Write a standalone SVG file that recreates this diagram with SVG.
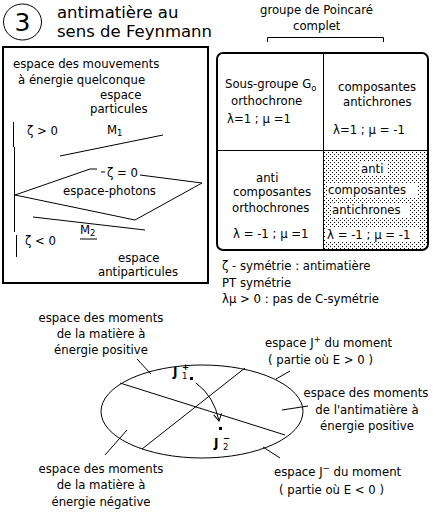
<svg xmlns="http://www.w3.org/2000/svg" width="433" height="513" viewBox="0 0 433 513">
<style>
text{font-family:"DejaVu Sans","Liberation Sans",sans-serif;font-size:11.7px;fill:#000}
.t{font-size:16.5px}
.ln{stroke:#000;stroke-width:1;fill:none}
.bx{stroke:#000;stroke-width:2;fill:none}
.sub{font-size:8.5px}
.b{font-weight:bold;font-size:12px}
</style>
<defs>
<pattern id="dots" width="4" height="4" patternUnits="userSpaceOnUse">
<rect x="0" y="0" width="1" height="1" fill="#000"/>
<rect x="2" y="2" width="1" height="1" fill="#000"/>
</pattern>
<marker id="arr" markerWidth="10" markerHeight="10" refX="8" refY="5" orient="auto" markerUnits="userSpaceOnUse">
<path d="M1,1 L8,5 L1,9" fill="none" stroke="#000" stroke-width="1"/>
</marker>
</defs>
<rect width="433" height="513" fill="#fff"/>

<g id="title">
<ellipse cx="22.5" cy="22" rx="19" ry="18" class="ln"/>
<text x="22.5" y="31" text-anchor="middle" style="font-size:25px">3</text>
<text class="t" x="57" y="18">antimatière au</text>
<text class="t" x="57" y="37">sens de Feynmann</text>
</g>

<g id="poincare-label">
<text x="260" y="14">groupe de Poincaré</text>
<text x="293" y="30">complet</text>
<path class="ln" d="M267.5,42 V37.5 H383.5 V42"/>
</g>

<g id="left-box">
<rect class="bx" x="3" y="47" width="205" height="236"/>
<text x="13" y="68">espace des mouvements</text>
<text x="18" y="84">à énergie quelconque</text>
<text x="100" y="99">espace</text>
<text x="90" y="113">particules</text>
<text x="27" y="135">ζ &gt; 0</text>
<text x="107" y="134">M<tspan class="sub" dy="2">1</tspan></text>
<text x="107" y="177">ζ = 0</text>
<text x="63" y="195">espace-photons</text>
<text x="80" y="234">M<tspan class="sub" dy="2">2</tspan></text>
<text x="25" y="245">ζ &lt; 0</text>
<text x="118" y="262">espace</text>
<text x="98" y="276">antiparticules</text>
</g>

<g id="left-lines">
<path class="ln" d="M60,156 L163,135"/>
<path class="ln" d="M13.5,122 V147 M14.5,147 V232 M16.5,235 V257"/>
<path class="ln" d="M15,195 L90,169 L97,169 M101,172 L105,172 M140,175 L202,183 L135,220 L15,195"/>
<path class="ln" d="M33,217 L145,230"/>
<path class="ln" d="M80,239 H97"/>
</g>

<g id="table">
<rect x="323" y="150" width="105" height="100" fill="url(#dots)"/>
<rect class="bx" x="217" y="53" width="211" height="197" rx="6"/>
<path class="ln" d="M323.5,53 V250 M217,150.5 H428"/>
</g>

<g id="cell-G0">
<text x="225" y="88">Sous-groupe G<tspan class="sub" dy="3">o</tspan></text>
<text x="231" y="105">orthochrone</text>
<text x="227" y="123">λ=1 ;  μ =1</text>
</g>
<g id="cell-antichrones">
<text x="338" y="91">composantes</text>
<text x="343" y="106">antichrones</text>
<text x="333" y="134">λ=1 ; μ = -1</text>
</g>
<g id="cell-anti-ortho">
<text x="256" y="182">anti</text>
<text x="233" y="196">composantes</text>
<text x="232" y="212">orthochrones</text>
<text x="233" y="238">λ = -1 ; μ =1</text>
</g>
<g id="cell-anti-antichrones">
<rect x="360" y="162" width="28" height="14" fill="#fff"/>
<rect x="327" y="183" width="91" height="15" fill="#fff"/>
<rect x="331" y="203" width="78" height="14" fill="#fff"/>
<rect x="326" y="228" width="93" height="14" fill="#fff"/>
<text x="361" y="173">anti</text>
<text x="328" y="194">composantes</text>
<text x="332" y="214">antichrones</text>
<text x="327" y="239">λ = -1 ; μ = -1</text>
</g>

<g id="notes">
<text x="222" y="270">ζ - symétrie : antimatière</text>
<text x="222" y="287">PT symétrie</text>
<text x="222" y="303">λμ  &gt; 0 : pas de C-symétrie</text>
</g>

<g id="ellipse">
<ellipse cx="202" cy="411.5" rx="101" ry="46.5" class="ln"/>
<path class="ln" d="M120,383 L285,435"/>
<path class="ln" d="M142,449 L245,368"/>
<rect x="190" y="377" width="3" height="3" fill="#000"/>
<rect x="219" y="427" width="3" height="3" fill="#000"/>
<text class="b" x="173" y="376">J</text>
<text class="sub" x="182" y="370" style="font-weight:bold">+</text>
<text class="sub" x="182" y="379">1</text>
<text class="b" x="214" y="447">J</text>
<text class="sub" x="223" y="441" style="font-weight:bold">−</text>
<text class="sub" x="223" y="450">2</text>
</g>

<g id="connectors">
<path class="ln" d="M196,383 Q214,396 219,421" marker-end="url(#arr)"/>
<path class="ln" d="M137,359 L151,374"/>
<path class="ln" d="M276,379 L290,371"/>
<path class="ln" d="M282,410 L308,406"/>
<path class="ln" d="M105,455 L127,430"/>
<path class="ln" d="M263,447 L280,458"/>
</g>

<g id="labels">
<text x="101" y="322" text-anchor="middle">espace des moments</text>
<text x="101" y="338" text-anchor="middle">de la matière à</text>
<text x="101" y="354" text-anchor="middle">énergie positive</text>
<text x="265" y="347">espace J<tspan class="sub" dy="-5">+</tspan><tspan dy="5"> du moment</tspan></text>
<text x="268" y="364">( partie où E &gt; 0 )</text>
<text x="366" y="397" text-anchor="middle">espace des moments</text>
<text x="367" y="414" text-anchor="middle">de l'antimatière à</text>
<text x="367" y="430" text-anchor="middle">énergie positive</text>
<text x="274" y="476">espace J<tspan class="sub" dy="-5">−</tspan><tspan dy="5"> du moment</tspan></text>
<text x="279" y="494">( partie où E &lt; 0 )</text>
<text x="101" y="473" text-anchor="middle">espace des moments</text>
<text x="101" y="489" text-anchor="middle">de la matière à</text>
<text x="101" y="506" text-anchor="middle">énergie négative</text>
</g>
</svg>
